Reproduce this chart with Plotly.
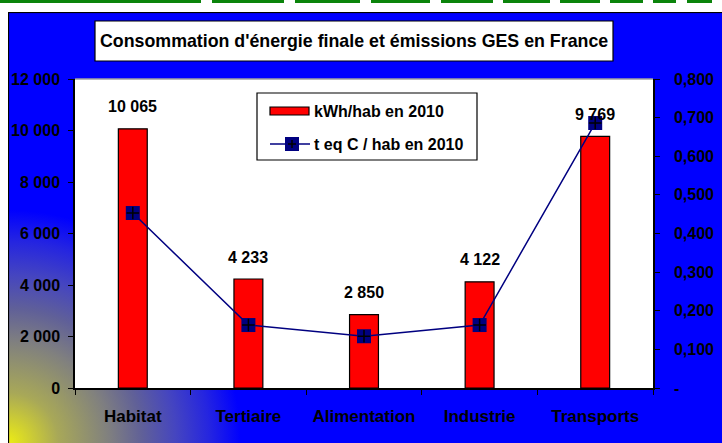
import base64
import plotly.graph_objects as go

# donnees
categories = ["Habitat", "Tertiaire", "Alimentation", "Industrie", "Transports"]
kwh_hab = [10065, 4233, 2850, 4122, 9769]
teqc_hab = [0.453, 0.163, 0.134, 0.163, 0.686]
y2_ticks = [0, 0.1, 0.2, 0.3, 0.4, 0.5, 0.6, 0.7, 0.8]
y2_labels = ["-", "0,100", "0,200", "0,300", "0,400", "0,500", "0,600", "0,700", "0,800"]
series_names = ["kWh/hab en 2010", "t eq C / hab en 2010"]

W, H = 722, 443
L, R, T, B = 75, 69, 79, 55
PW, PH = W - L - R, H - T - B


def px(x):
    return (x - L) / PW


def py(y):
    return (H - B - y) / PH


FONT = "Liberation Sans, Arial, sans-serif"
bold = dict(family=FONT, size=16, color="black", weight="bold")

# fond bleu avec degrade radial jaune dans le coin bas gauche
svg = (
    "<svg xmlns='http://www.w3.org/2000/svg' width='714' height='431' viewBox='0 0 714 431' preserveAspectRatio='none'>"
    "<defs><radialGradient id='g' gradientUnits='userSpaceOnUse' cx='0' cy='431' r='240'>"
    "<stop offset='0' stop-color='#eded14'/><stop offset='0.21' stop-color='#a8a858'/>"
    "<stop offset='0.42' stop-color='#80807f'/><stop offset='0.56' stop-color='#606098'/>"
    "<stop offset='0.7' stop-color='#4545c0'/><stop offset='0.84' stop-color='#2525e0'/>"
    "<stop offset='0.97' stop-color='#0000ff'/>"
    "</radialGradient></defs>"
    "<rect x='0.5' y='0.5' width='720' height='440' fill='url(#g)' stroke='black' stroke-width='1.2'/></svg>"
)
bg_src = "data:image/svg+xml;base64," + base64.b64encode(svg.encode()).decode()

fig = go.Figure()
fig.add_trace(go.Bar(
    x=categories, y=kwh_hab, name=series_names[0],
    marker=dict(color="#ff0000", line=dict(color="black", width=1.2)),
    width=0.25,
))
fig.add_trace(go.Scatter(
    x=categories, y=teqc_hab, yaxis="y2", name=series_names[1],
    mode="lines+markers", line=dict(color="#000080", width=1.5),
    marker=dict(symbol="square", size=14, color="#000080"),
))
# petite croix noire dans les marqueurs
fig.add_trace(go.Scatter(
    x=categories, y=teqc_hab, yaxis="y2", mode="markers",
    marker=dict(symbol="cross-thin", size=9, line=dict(color="black", width=1.5)),
    hoverinfo="skip",
))

for c, v in zip(categories, kwh_hab):
    fig.add_annotation(x=c, y=v, xref="x", yref="y", text=f"{v:,}".replace(",", " "),
                       showarrow=False, yanchor="middle", yshift=22, font=bold)

fig.add_annotation(x=px(354), y=py(41), xref="paper", yref="paper",
                   text="Consommation d'énergie finale et émissions GES en France",
                   showarrow=False, xanchor="center", yanchor="middle",
                   font=dict(bold, size=17.8))

shapes = [
    dict(type="rect", xref="paper", yref="paper", x0=0, x1=1, y0=0, y1=1,
         fillcolor="white", line=dict(width=0), layer="below"),
    dict(type="line", xref="paper", yref="paper", x0=0, x1=1, y0=1, y1=1,
         line=dict(color="#a0a0a0", width=1.5)),
    dict(type="rect", xref="paper", yref="paper", x0=px(95), x1=px(613), y0=py(61), y1=py(21),
         fillcolor="white", line=dict(color="black", width=1.2), layer="below"),
]
# pointilles verts en haut de la page
for a, b in [(0, 201), (212, 284), (295, 360), (371, 430), (441, 493), (503, 550),
             (560, 600), (610, 643), (653, 676), (687, 712)]:
    shapes.append(dict(type="rect", xref="paper", yref="paper", x0=px(a), x1=px(b),
                       y0=py(3), y1=py(0), fillcolor="#0b840b", line=dict(width=0)))

# legende dessinee a la main (symbole rectangle large comme l'original)
shapes += [
    dict(type="rect", xref="paper", yref="paper", x0=px(257), x1=px(477), y0=py(160), y1=py(93),
         fillcolor="white", line=dict(color="black", width=1.2)),
    dict(type="rect", xref="paper", yref="paper", x0=px(270), x1=px(309), y0=py(115), y1=py(107),
         fillcolor="#ff0000", line=dict(color="black", width=1.2)),
    dict(type="line", xref="paper", yref="paper", x0=px(270), x1=px(310), y0=py(144), y1=py(144),
         line=dict(color="#000080", width=1.5)),
    dict(type="rect", xref="paper", yref="paper", x0=px(285), x1=px(299), y0=py(151), y1=py(137),
         fillcolor="#000080", line=dict(width=0)),
    dict(type="line", xref="paper", yref="paper", x0=px(288), x1=px(296), y0=py(144), y1=py(144),
         line=dict(color="black", width=1.5)),
    dict(type="line", xref="paper", yref="paper", x0=px(292), x1=px(292), y0=py(140), y1=py(148),
         line=dict(color="black", width=1.5)),
]
for name, yy in zip(series_names, [111, 144]):
    fig.add_annotation(x=px(312), y=py(yy), xref="paper", yref="paper", text=name,
                       showarrow=False, xanchor="left", yanchor="middle", font=bold)

fig.update_layout(
    width=W, height=H,
    margin=dict(l=L, r=R, t=T, b=B),
    paper_bgcolor="white", plot_bgcolor="white",
    separators=", ",
    showlegend=False,
    bargap=0.75,
    shapes=shapes,
    images=[dict(source=bg_src, xref="paper", yref="paper", x=px(8), y=py(12),
                 sizex=714 / PW, sizey=431 / PH, xanchor="left", yanchor="top",
                 sizing="stretch", layer="below")],
    xaxis=dict(type="category", range=[-0.5, 4.5], showline=True, linecolor="black", linewidth=1.5,
               ticks="outside", tickson="boundaries", ticklen=5, tickcolor="black", tickangle=0,
               tickfont=dict(bold, size=17), ticklabelstandoff=12, showgrid=False, automargin=False),
    yaxis=dict(range=[0, 12000], dtick=2000, tickformat=",d", showline=True, linecolor="black",
               linewidth=1.5, ticks="outside", ticklen=5, tickcolor="black", tickfont=bold,
               ticklabelstandoff=5, showgrid=False, zeroline=False, automargin=False),
    yaxis2=dict(overlaying="y", side="right", range=[0, 0.8], tickvals=y2_ticks, ticktext=y2_labels,
                showline=True, linecolor="black", linewidth=1.5, ticks="outside", ticklen=5,
                tickcolor="black", tickfont=bold, ticklabelstandoff=11, showgrid=False, zeroline=False,
                automargin=False),
)

fig.write_html("out.html", config={"displayModeBar": False},
               post_script="document.body.style.margin='0';document.body.style.overflow='hidden';")
